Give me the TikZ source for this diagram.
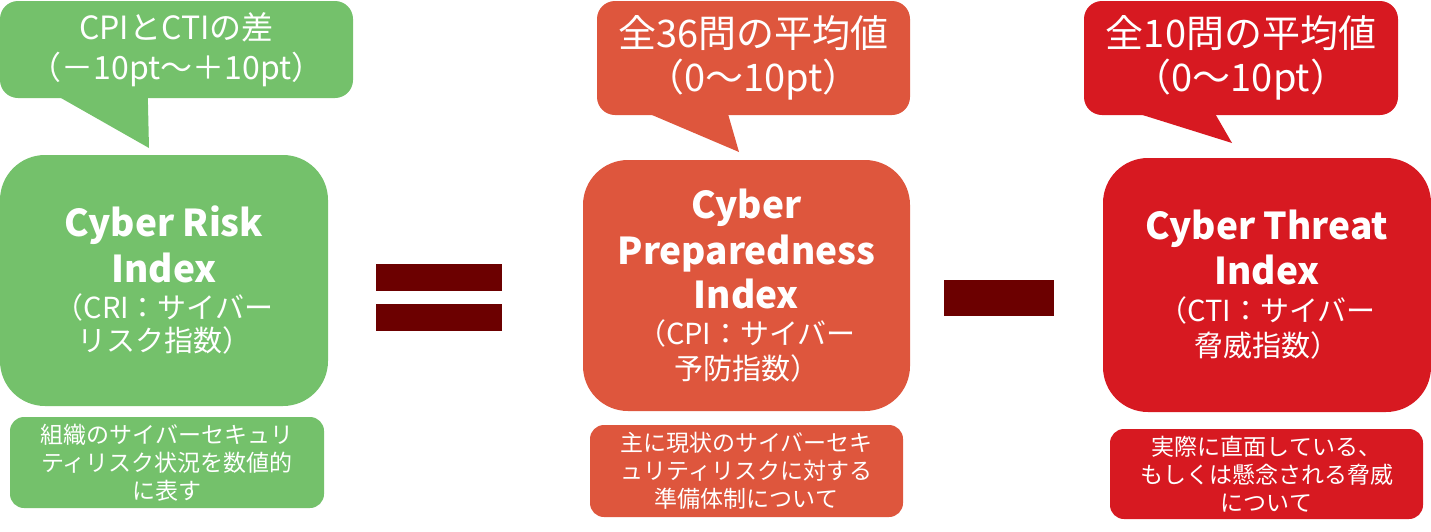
\documentclass[tikz,border=0pt]{standalone}
\usepackage{fontspec}
\setmainfont{Noto Sans CJK JP}
\usepackage[svgnames]{xcolor}
\usepackage{tikz}
\usetikzlibrary{
  positioning}

\definecolor{crigreen}{RGB}{116,193,107}
\definecolor{cpiorange}{RGB}{222,86,61}
\definecolor{ctired}{RGB}{215,25,33}
\definecolor{opmaroon}{RGB}{108,0,0}
\newcommand{\subfont}{\fontsize{29}{34}\selectfont\mdseries}

\begin{document}
\begin{tikzpicture}[x=1pt,y=-1pt,
  mainbox/.style={rounded corners=45pt,inner sep=0pt,text=white,align=center,
    font=\fontsize{37}{46}\selectfont\bfseries},
  balloon/.style={rounded corners=18pt,inner sep=0pt,text=white,align=center},
  notebox/.style={rounded corners=14pt,inner sep=0pt,text=white,align=center,
    font=\fontsize{23}{28}\selectfont},
  opbar/.style={fill=opmaroon,inner sep=0pt}]
\useasboundingbox (0,0) rectangle (1431,531);

\node[balloon,fill=crigreen,minimum width=353pt,minimum height=97pt,
  font=\fontsize{32}{40}\selectfont] (cri-balloon) at (176.5,49.5)
  {CPIとCTIの差\\（－10pt～＋10pt）};
\coordinate (cri-tip) at (149,148);
\node[mainbox,fill=crigreen,minimum width=328pt,minimum height=251pt] (cri) at (164,280.5)
  {Cyber Risk\\Index\\[-10pt]{\subfont （CRI：サイバー}\\[-13pt]{\subfont リスク指数）}};
\node[notebox,fill=crigreen,minimum width=314pt,minimum height=91pt] (cri-note) at (167,462.5)
  {組織のサイバーセキュリ\\ティリスク状況を数値的\\に表す};

\node[opbar,minimum width=126pt,minimum height=27pt] (eq-top) at (439,277.5) {};
\node[opbar,minimum width=126pt,minimum height=27pt] (eq-bot) at (439,317.5) {};

\node[balloon,fill=cpiorange,minimum width=313pt,minimum height=114pt,
  font=\fontsize{38}{44}\selectfont] (cpi-balloon) at (753.5,58)
  {全36問の平均値\\（0～10pt）};
\coordinate (cpi-tip) at (739,152);
\node[mainbox,fill=cpiorange,minimum width=327pt,minimum height=251pt] (cpi) at (746.5,285.5)
  {Cyber\\Preparedness\\[-2pt]Index\\[-10pt]{\subfont （CPI：サイバー}\\[-11pt]{\subfont 予防指数）}};
\node[notebox,fill=cpiorange,minimum width=313pt,minimum height=92pt] (cpi-note) at (746.5,471)
  {主に現状のサイバーセキ\\ュリティリスクに対する\\準備体制について};

\node[opbar,minimum width=110pt,minimum height=36pt] (minus) at (999,298) {};

\node[balloon,fill=ctired,minimum width=314pt,minimum height=114pt,
  font=\fontsize{38}{44}\selectfont] (cti-balloon) at (1241,58)
  {全10問の平均値\\（0～10pt）};
\coordinate (cti-tip) at (1232,143);
\node[mainbox,fill=ctired,minimum width=328pt,minimum height=254pt] (cti) at (1267,285)
  {Cyber Threat\\[-1pt]Index\\[-9pt]{\subfont （CTI：サイバー}\\[-11pt]{\subfont 脅威指数）}};
\node[notebox,fill=ctired,minimum width=313pt,minimum height=90pt] (cti-note) at (1266.5,474)
  {実際に直面している、\\もしくは懸念される脅威\\について};

\foreach \b/\col/\l/\r in {cri/crigreen/58/148,cpi/cpiorange/51/131,cti/ctired/53/131}
  \fill[\col] ([xshift=\l pt,yshift=2pt]\b-balloon.south west) -- (\b-tip)
    -- ([xshift=\r pt,yshift=2pt]\b-balloon.south west) -- cycle;
\end{tikzpicture}
\end{document}
